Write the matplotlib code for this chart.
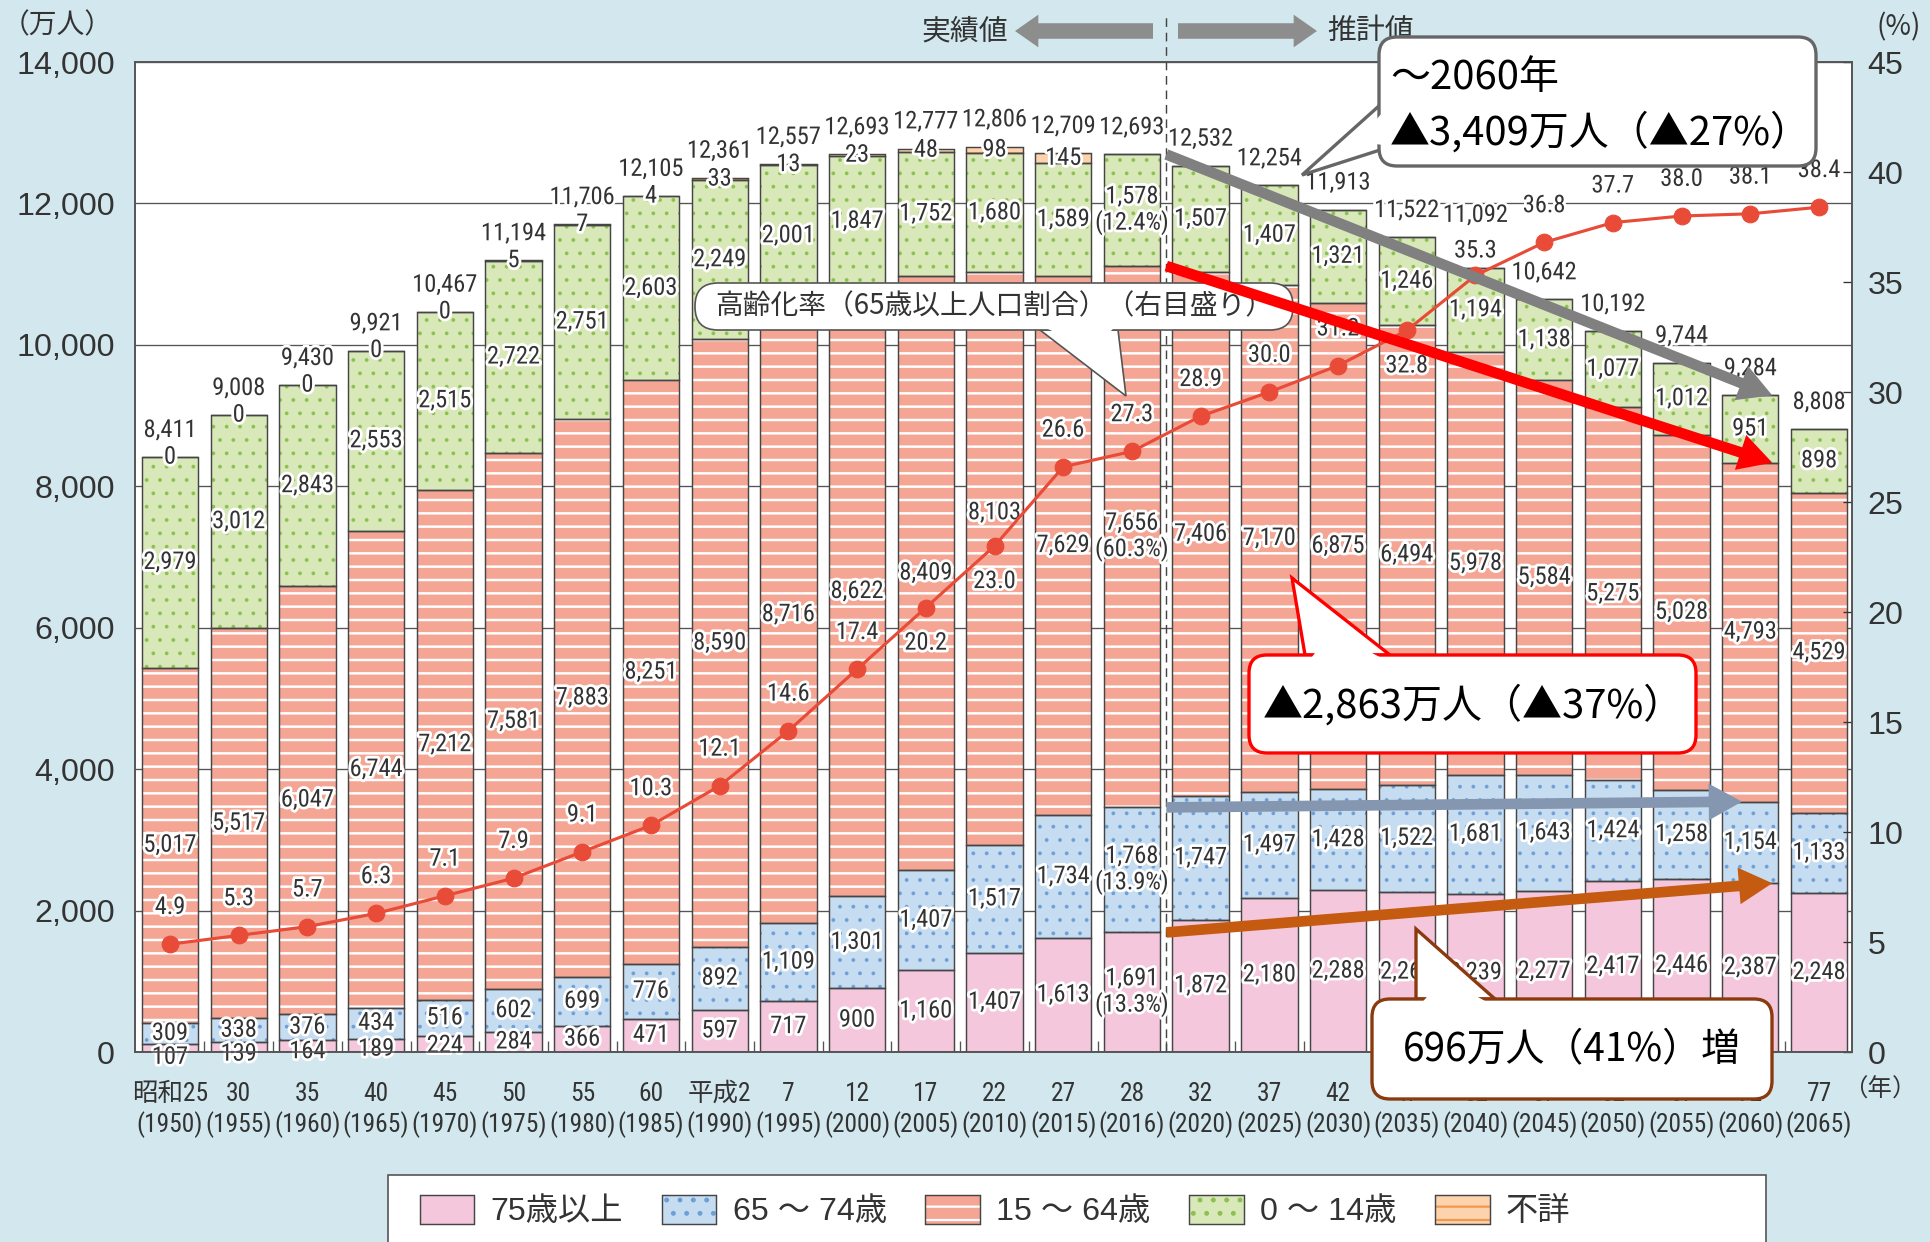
import numpy as np
import matplotlib
matplotlib.use('Agg')
import matplotlib.pyplot as plt
import matplotlib.patheffects as pe
from matplotlib import font_manager
from matplotlib.patches import Patch, Polygon, FancyBboxPatch, FancyArrowPatch, Rectangle
from matplotlib.legend_handler import HandlerTuple

W, H, DPI = 1930, 1242, 80

# ---- data (万人, %) ----
era_labels = ['昭和25', '30', '35', '40', '45', '50', '55', '60', '平成2', '7', '12', '17', '22',
              '27', '28', '32', '37', '42', '47', '52', '57', '62', '67', '72', '77']
years = [1950, 1955, 1960, 1965, 1970, 1975, 1980, 1985, 1990, 1995, 2000, 2005, 2010,
         2015, 2016, 2020, 2025, 2030, 2035, 2040, 2045, 2050, 2055, 2060, 2065]
age75 = [107, 139, 164, 189, 224, 284, 366, 471, 597, 717, 900, 1160, 1407,
         1613, 1691, 1872, 2180, 2288, 2260, 2239, 2277, 2417, 2446, 2387, 2248]
age65_74 = [309, 338, 376, 434, 516, 602, 699, 776, 892, 1109, 1301, 1407, 1517,
            1734, 1768, 1747, 1497, 1428, 1522, 1681, 1643, 1424, 1258, 1154, 1133]
age15_64 = [5017, 5517, 6047, 6744, 7212, 7581, 7883, 8251, 8590, 8716, 8622, 8409, 8103,
            7629, 7656, 7406, 7170, 6875, 6494, 5978, 5584, 5275, 5028, 4793, 4529]
age0_14 = [2979, 3012, 2843, 2553, 2515, 2722, 2751, 2603, 2249, 2001, 1847, 1752, 1680,
           1589, 1578, 1507, 1407, 1321, 1246, 1194, 1138, 1077, 1012, 951, 898]
unknown = [0, 0, 0, 0, 0, 5, 7, 4, 33, 13, 23, 48, 98, 145,
           None, None, None, None, None, None, None, None, None, None, None]
totals = [8411, 9008, 9430, 9921, 10467, 11194, 11706, 12105, 12361, 12557, 12693, 12777, 12806,
          12709, 12693, 12532, 12254, 11913, 11522, 11092, 10642, 10192, 9744, 9284, 8808]
aging_rate = [4.9, 5.3, 5.7, 6.3, 7.1, 7.9, 9.1, 10.3, 12.1, 14.6, 17.4, 20.2, 23.0,
              26.6, 27.3, 28.9, 30.0, 31.2, 32.8, 35.3, 36.8, 37.7, 38.0, 38.1, 38.4]
share_2016 = ['13.3%', '13.9%', '60.3%', '12.4%']   # 75+, 65-74, 15-64, 0-14
rate_below = [2005, 2010, 2035]                      # years whose rate label sits under the marker

# ---- fonts ----
installed = {f.name for f in font_manager.fontManager.ttflist}


def pick(*names):
    for n in names:
        if n in installed:
            return n
    return 'DejaVu Sans'


NUM = pick('Liberation Sans Narrow', 'Roboto Condensed', 'Liberation Sans')
SANS = pick('Liberation Sans', 'Roboto', 'DejaVu Sans')
JP = 'Noto Sans CJK JP'
plt.rcParams['font.family'] = [SANS, JP]
plt.rcParams['hatch.linewidth'] = 2.0

# ---- colours ----
BG = '#d3e8ee'
C75 = '#f4c7dc'
C65, D65 = '#c6ddf1', '#6f9fd6'
C15, S15 = '#f4a593', 'white'
C0, D0 = '#d9e8b8', '#8cc152'
CU, SU = '#fdd3ae', '#f19a4f'
CRATE = '#e84b37'
EDGE = '#454545'
TXT = '#333333'
halo = [pe.withStroke(linewidth=5, foreground='white')]


def px(x, y):
    # full-size pixel (origin top-left) -> inches for fig.dpi_scale_trans
    return (x / DPI, (H - y) / DPI)


def hatch_lw(patches, lw):
    for p in patches:
        if hasattr(p, 'set_hatch_linewidth'):
            p.set_hatch_linewidth(lw)


fig = plt.figure(figsize=(W / DPI, H / DPI), dpi=DPI, facecolor=BG)
ax = fig.add_axes([135 / W, 1 - 1052 / H, (1852 - 135) / W, (1052 - 62) / H])
ax.set_facecolor('white')
x = np.arange(len(years))
ax.set_xlim(-0.51, 24.48)
ax.set_ylim(0, 14000)

# stacked bars
unk = [0 if u is None else u for u in unknown]
layers = [(age75, C75, None, C75, 2.0), (age65_74, C65, '.', D65, 1.0), (age15_64, C15, '-', S15, 2.2),
          (age0_14, C0, '.', D0, 1.0), (unk, CU, '-', SU, 2.0)]
bw = 0.82
bottom = np.zeros(len(x))
bottoms = []
for vals, fc, hatch, hc, hl in layers:
    v = np.array(vals, float)
    with plt.rc_context({'hatch.linewidth': hl}):
        bars = ax.bar(x, v, bw, bottom, color=fc, hatch=hatch, edgecolor=hc, linewidth=0, zorder=2)
    hatch_lw(bars, hl)
    ax.bar(x, v, bw, bottom, fill=False, edgecolor=EDGE, linewidth=1.3, zorder=3)
    bottoms.append(bottom.copy())
    bottom += v


def seg_text(xi, y, s, size=22):
    ax.text(xi, y, s, ha='center', va='center', fontsize=size, family=[NUM, JP],
            color=TXT, path_effects=halo, zorder=6, linespacing=1.1)


i16 = years.index(2016)
i10 = years.index(2010)
for k, vals in enumerate([age75, age65_74, age15_64, age0_14]):
    for i, v in enumerate(vals):
        mid = bottoms[k][i] + v / 2
        if k == 0:
            mid -= max(0, 250 - v) * 0.9
        if k == 2 and i == i10:
            mid += 650          # keep clear of the rate marker
        s = f'{v:,}'
        if i == i16:
            s = s + '\n(' + share_2016[k] + ')'
        seg_text(i, mid, s)

for i, u in enumerate(unknown):
    if u is not None:
        seg_text(i, bottoms[4][i] + u / 2, f'{u:,}')

for i, t in enumerate(totals):
    dy = 47 if years[i] == 2040 else 24
    ax.annotate(f'{t:,}', (i, bottom[i]), xytext=(0, dy), textcoords='offset points',
                ha='center', va='center', fontsize=22, family=[NUM, JP], color=TXT,
                path_effects=halo, zorder=6)

# axes styling
ax.set_yticks(range(0, 14001, 2000))
ax.set_yticklabels([f'{v:,}' for v in range(0, 14001, 2000)])
ax.yaxis.grid(True, color='#555555', lw=1.2)
ax.set_axisbelow(True)
ax.tick_params(axis='y', length=0, pad=18, labelsize=29, colors=TXT)
ax.set_xticks(x)
ax.set_xticklabels([f'{e}\n({y})' for e, y in zip(era_labels, years)])
for lbl in ax.get_xticklabels():
    lbl.set_family([NUM, JP])
    lbl.set_fontsize(23)
    lbl.set_color(TXT)
    lbl.set_linespacing(1.25)
ax.tick_params(axis='x', which='major', length=0, pad=27)
ax.set_xticks(x[:-1] + 0.5, minor=True)
ax.tick_params(axis='x', which='minor', direction='in', length=10, color='#555555', width=1.2)
for sp in ax.spines.values():
    sp.set_color('#555555')
    sp.set_linewidth(1.5)

ax.axvline(14.5, ymin=0, ymax=(1052 - 15) / 990, clip_on=False, ls=(0, (6, 4)),
           color='#444444', lw=1.3, zorder=4)

# aging rate (right axis)
ax2 = ax.twinx()
ax2.set_ylim(0, 45)
ax2.set_yticks(range(0, 46, 5))
ax2.tick_params(axis='y', direction='in', length=8, width=1.2, pad=14, labelsize=29,
                colors=TXT)
for sp in ax2.spines.values():
    sp.set_color('#555555')
    sp.set_linewidth(1.5)
ax2.plot(x, aging_rate, color=CRATE, lw=2.8, marker='o', ms=15, zorder=5)
for i, r in enumerate(aging_rate):
    if years[i] in rate_below:
        dy = -32
    elif years[i] == 2040:
        dy = 22
    else:
        dy = 33
    ax2.annotate(f'{r:.1f}', (i, r), xytext=(0, dy), textcoords='offset points',
                 ha='center', va='center', fontsize=22, family=[NUM, JP], color=TXT,
                 path_effects=halo, zorder=6)

# axis captions
fig.text(*px(57, 25), '（万人）', transform=fig.dpi_scale_trans, ha='center', va='center',
         fontsize=25, family=JP, color=TXT)
fig.text(*px(1899, 27), '(%)', transform=fig.dpi_scale_trans, ha='center', va='center',
         fontsize=25, family=JP, color=TXT)
fig.text(*px(1880, 1090), '（年）', transform=fig.dpi_scale_trans, ha='center', va='center',
         fontsize=22, family=JP, color=TXT)

# top "実績値 <- | -> 推計値"
for x0, x1 in [(1153, 1015), (1178, 1317)]:
    fig.add_artist(FancyArrowPatch(px(x0, 31), px(x1, 31), transform=fig.dpi_scale_trans,
                                   arrowstyle='simple,head_length=0.75,head_width=1.05,tail_width=0.5',
                                   mutation_scale=28, fc='#8d8d8d', ec='none',
                                   shrinkA=0, shrinkB=0, zorder=3))
fig.text(*px(965, 31), '実績値', transform=fig.dpi_scale_trans, ha='center', va='center',
         fontsize=26, family=JP, color=TXT, zorder=3)
fig.text(*px(1371, 31), '推計値', transform=fig.dpi_scale_trans, ha='center', va='center',
         fontsize=26, family=JP, color=TXT, zorder=3)


def callout(box, tip, base, ec, lw, rs, z):
    x0, y0, x1, y1 = box
    b0, b1, t = np.array(base[0], float), np.array(base[1], float), np.array(tip, float)
    fig.add_artist(Polygon([px(*b0), px(*t), px(*b1)], closed=True, transform=fig.dpi_scale_trans,
                           fc='white', ec=ec, lw=lw, zorder=z))
    fig.add_artist(FancyBboxPatch(px(x0, y1), (x1 - x0) / DPI, (y1 - y0) / DPI,
                                  boxstyle=f'round,pad=0,rounding_size={rs / DPI}',
                                  transform=fig.dpi_scale_trans, fc='white', ec=ec, lw=lw,
                                  zorder=z + 0.1))
    e = (b1 - b0) / np.linalg.norm(b1 - b0)
    n = np.array([-e[1], e[0]])
    m = (b0 + b1) / 2
    if np.dot(n, t - m) > 0:
        n = -n
    k = lw * DPI / 72 + 1.5
    c0 = b0 + e * k + n * k
    c1 = b1 - e * k + n * k
    ct = m + (t - m) * 0.3
    fig.add_artist(Polygon([px(*c0), px(*ct), px(*c1)], closed=True, transform=fig.dpi_scale_trans,
                           fc='white', ec='none', zorder=z + 0.2))


def ftext(xy, s, size, z, ha='center', color='black', family=None):
    fig.text(*px(*xy), s, transform=fig.dpi_scale_trans, ha=ha, va='center', fontsize=size,
             family=family or [JP], color=color, zorder=z)


# aging-rate caption
callout((695, 283, 1293, 330), (1126, 396), [(1040, 330), (1118, 330)], '#555555', 1.5, 23, 7)
ftext((994, 306), '高齢化率（65歳以上人口割合）（右目盛り）', 25, 7.5, color=TXT)

# thick trend arrows from 2016 to 2060
i60 = years.index(2060)
tops = [bottom, bottoms[3], bottoms[2], bottoms[1]]
arrow_cols = ['#808080', '#ff0000', '#8496b0', '#c55a11']
arrow_end = [0.32, 0.32, -0.12, 0.32]
for top, col, dx in zip(tops, arrow_cols, arrow_end):
    fig.add_artist(FancyArrowPatch((14.5, top[i16]), (i60 + dx, top[i60]), transform=ax.transData,
                                   arrowstyle='simple,head_length=1.0,head_width=1.1,tail_width=0.32',
                                   mutation_scale=30, fc=col, ec='none', shrinkA=0, shrinkB=0,
                                   zorder=8))

# callouts
callout((1379, 37, 1816, 166), (1302, 175), [(1380, 105), (1380, 150)], '#666666', 3, 18, 10)
ftext((1390, 78), '～2060年', 36, 11, ha='left')
ftext((1390, 133), '▲3,409万人（▲27%）', 36, 11, ha='left')

callout((1249, 655, 1696, 753), (1292, 578), [(1305, 655), (1390, 655)], '#ff0000', 3, 18, 10)
ftext((1473, 706), '▲2,863万人（▲37%）', 36, 11)

callout((1372, 999, 1772, 1099), (1416, 929), [(1416, 999), (1495, 999)], '#8b3a0f', 3, 18, 10)
ftext((1572, 1050), '696万人（41%）増', 35, 11)

# legend
fig.add_artist(Rectangle(px(388, 1262), (1766 - 388) / DPI, (1262 - 1175) / DPI,
                         transform=fig.dpi_scale_trans, fc='white', ec='#555555', lw=1.5, zorder=1))
outline = dict(fill=False, ec=EDGE, lw=1.3)
leg_fill = [Patch(fc=C75, ec=C75, lw=0),
            Patch(fc=C65, hatch='.', ec=D65, lw=0),
            Patch(fc=C15, hatch='-', ec=S15, lw=0),
            Patch(fc=C0, hatch='.', ec=D0, lw=0),
            Patch(fc=CU, hatch='-', ec=SU, lw=0)]
for p, hl in zip(leg_fill, [2.0, 1.0, 2.2, 1.0, 2.0]):
    hatch_lw([p], hl)
handles = [(p, Patch(**outline)) for p in leg_fill]
labels = ['75歳以上', '65 ～ 74歳', '15 ～ 64歳', '0 ～ 14歳', '不詳']
fig.legend(handles, labels, loc='center', bbox_to_anchor=(995 / W, 1 - 1211 / H), ncol=5,
           frameon=False, handler_map={tuple: HandlerTuple(ndivide=1, pad=0)},
           handlelength=1.7, handleheight=1.0, handletextpad=0.5, columnspacing=1.2,
           prop={'family': [SANS, JP], 'size': 29}, labelcolor=TXT)

fig.savefig('out.png', dpi=DPI, facecolor=BG)
